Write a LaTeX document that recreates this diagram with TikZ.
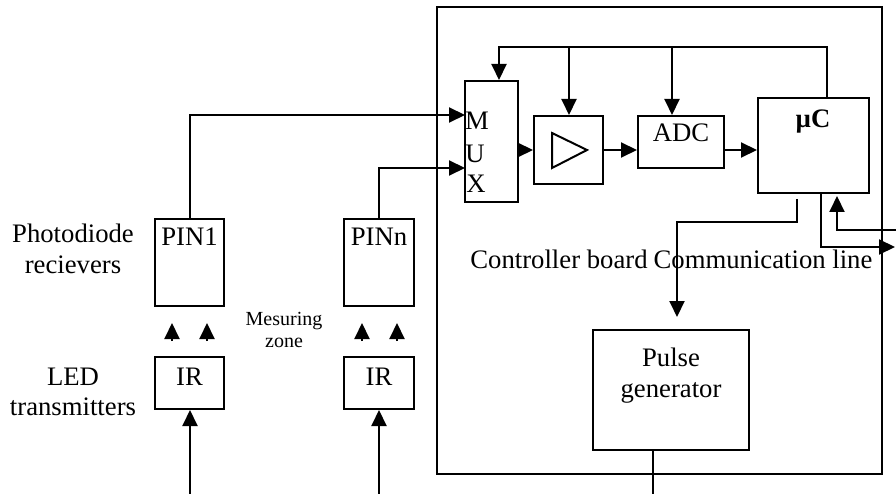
\documentclass[tikz,border=0pt]{standalone}
\usepackage{fontspec}
\setmainfont{Liberation Serif}
\usetikzlibrary{arrows.meta}
\begin{document}
\begin{tikzpicture}[x=1pt,y=-1pt, line width=2pt,
  box/.style={draw, rectangle, inner sep=0pt, line width=2pt},
  txt/.style={font=\fontsize{26.7}{30}\selectfont, inner sep=0pt, anchor=base},
  smalltxt/.style={font=\fontsize{20}{24}\selectfont, inner sep=0pt, anchor=base},
  arr/.style={-{Triangle[length=16pt,width=15pt]}}]
\useasboundingbox (0,0) rectangle (896,494);

% boxes
\node[box, minimum width=445pt, minimum height=467pt] (board) at (659.5,240.5) {};
\node[box, minimum width=53pt, minimum height=121pt] (mux) at (491.5,141.5) {};
\node[box, minimum width=69pt, minimum height=68pt] (amp) at (568.5,150) {};
\node[box, minimum width=86pt, minimum height=52pt] (adc) at (681,142) {};
\node[box, minimum width=111pt, minimum height=95pt] (uc) at (813.5,145.5) {};
\node[box, minimum width=69pt, minimum height=87pt] (pin1) at (189.5,262.5) {};
\node[box, minimum width=70pt, minimum height=87pt] (pinn) at (379,262.5) {};
\node[box, minimum width=69pt, minimum height=52pt] (ir1) at (189.5,383) {};
\node[box, minimum width=70pt, minimum height=52pt] (irn) at (379,383) {};
\node[box, minimum width=156pt, minimum height=120pt] (pg) at (671,390) {};

% amplifier symbol
\draw (552,133) -- (587,150) -- (552,168) -- cycle;

% texts
\node[txt] (tM) at (477,130) {M};
\node[txt] (tU) at (475,163) {U};
\node[txt] (tX) at (476,193) {X};
\node[txt] (tadc) at (681,142) {ADC};
\node[txt] (tuc) at (813,128) {\textbf{µC}};
\node[txt] (tpin1) at (189.5,246) {PIN1};
\node[txt] (tpinn) at (379,246) {PINn};
\node[txt] (tir1) at (189.5,385) {IR};
\node[txt] (tirn) at (379,385) {IR};
\node[txt] (tpulse) at (671,366) {Pulse};
\node[txt] (tgen) at (671,397) {generator};
\node[txt] (tphoto) at (73,243) {Photodiode};
\node[txt] (trec) at (73,273) {recievers};
\node[txt] (tled) at (73,385) {LED};
\node[txt] (ttrans) at (73,415) {transmitters};
\node[smalltxt] (tmes) at (284,325) {Mesuring};
\node[smalltxt] (tzone) at (284,347) {zone};
\node[txt] (tboard) at (559,268) {Controller board};
\node[txt] (tcomm) at (763,268) {Communication line};

% coordinates
\coordinate (muxM) at (465,115);
\coordinate (muxX) at (465,168);
\coordinate (busL) at (499,47);
\coordinate (busR) at (827,47);
\coordinate (busA) at (569,47);
\coordinate (busD) at (672,47);
\coordinate (ucA) at (797,199);
\coordinate (pgA) at (677,317);
\coordinate (ucOut) at (821,193);
\coordinate (commOut) at (895,247);
\coordinate (ucIn) at (837,196);
\coordinate (commIn) at (896,230);
\coordinate (pgOut) at (653,494);
\coordinate (src1) at (190,494);
\coordinate (srcn) at (379,494);
\coordinate (b1a) at (172,341);
\coordinate (b1b) at (207,341);
\coordinate (bna) at (362,341);
\coordinate (bnb) at (397,341);

% connectors
\draw[arr] (pin1.north) |- (muxM);
\draw[arr] (pinn.north) |- (muxX);
\draw[arr] (mux.east |- amp.west) -- (amp.west);
\draw[arr] (amp.east) -- (amp.east -| adc.west);
\draw[arr] (adc.east |- amp.east) -- (uc.west |- amp.east);
\draw[arr] (uc.north -| busR) -- (busR) -- (busL) -- (busL |- mux.north);
\draw[arr] (busA) -- (busA |- amp.north);
\draw[arr] (busD) -- (busD |- adc.north);
\draw[arr] (ucA) -- (797,222) -| (pgA);
\draw[arr] (ucOut) |- (commOut);
\draw[arr] (commIn) -| (ucIn);
\draw (pg.south -| pgOut) -- (pgOut);
\draw[arr] (src1) -- (src1 |- ir1.south);
\draw[arr] (srcn) -- (srcn |- irn.south);
\foreach \c in {b1a,b1b,bna,bnb} \draw[arr] (\c) -- ++(0,-18);
\end{tikzpicture}
\end{document}
